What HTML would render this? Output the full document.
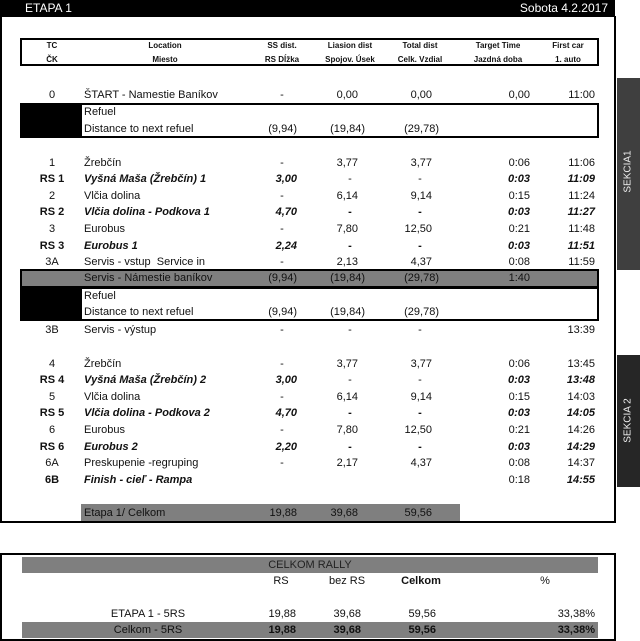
<!DOCTYPE html>
<html><head><meta charset="utf-8"><style>
*{margin:0;padding:0;box-sizing:border-box}
body{width:640px;height:641px;position:relative;background:#fff;font-family:"Liberation Sans",sans-serif;font-size:11px;color:#111;overflow:hidden}
.a{position:absolute}
.row{position:absolute;left:0;width:640px;height:16px;line-height:16px}
.row span{position:absolute;white-space:nowrap}
.tc{left:22px;width:60px;text-align:center}
.loc{left:84px}
.ssd{left:262px;width:40px;text-align:center}
.ss{right:343px}
.lid{left:330px;width:40px;text-align:center}
.li{right:282px}
.totd{left:400px;width:40px;text-align:center}
.tot{right:208px}
.tg{right:110px}
.fc{right:45px}
.p1{right:343px}.p2{right:275px}.p3{right:201px}
.b{font-weight:bold}
.bi{font-weight:bold;font-style:italic}
.hd{position:absolute;font-size:8px;font-weight:bold;width:80px;text-align:center}
.box{position:absolute;left:20px;width:579px;border:2.5px solid #000}
</style></head><body>
<div class="a" style="left:0;top:0;width:615px;height:17px;background:#000"></div>
<div class="a" style="left:25px;top:1px;color:#fff;font-size:12px;line-height:15px">ETAPA 1</div>
<div class="a" style="right:32px;top:1px;color:#fff;font-size:12px;line-height:15px">Sobota 4.2.2017</div>
<div class="a" style="left:0;top:16px;width:616px;height:507px;border:2px solid #000;border-top:none"></div>
<div class="a" style="left:617px;top:78px;width:23px;height:192px;background:#3f3f3f"></div>
<div class="a" style="left:617px;top:355px;width:23px;height:132px;background:#262626"></div>
<div class="a" style="left:578px;top:166px;width:100px;text-align:center;color:#eee;font-size:10px;transform:rotate(-90deg)">SEKCIA1</div>
<div class="a" style="left:578px;top:415px;width:100px;text-align:center;color:#eee;font-size:10px;transform:rotate(-90deg)">SEKCIA 2</div>
<div class="box" style="top:38px;height:28px"></div>
<div class="hd" style="left:12px;top:41px">TC</div><div class="hd" style="left:12px;top:55px">ČK</div>
<div class="hd" style="left:125px;top:41px">Location</div><div class="hd" style="left:125px;top:55px">Miesto</div>
<div class="hd" style="left:242px;top:41px">SS dist.</div><div class="hd" style="left:242px;top:55px">RS Dĺžka</div>
<div class="hd" style="left:310px;top:41px">Liasion dist</div><div class="hd" style="left:310px;top:55px">Spojov. Úsek</div>
<div class="hd" style="left:380px;top:41px">Total dist</div><div class="hd" style="left:380px;top:55px">Celk. Vzdial</div>
<div class="hd" style="left:458px;top:41px">Target Time</div><div class="hd" style="left:458px;top:55px">Jazdná doba</div>
<div class="hd" style="left:528px;top:41px">First car</div><div class="hd" style="left:528px;top:55px">1. auto</div>

<div class="row" style="top:87px"><span class="tc">0</span><span class="loc">ŠTART - Namestie Baníkov</span><span class="ssd">-</span><span class="li">0,00</span><span class="tot">0,00</span><span class="tg">0,00</span><span class="fc">11:00</span></div>
<div class="box" style="top:103px;height:35px"></div>
<div class="a" style="left:20px;top:103px;width:62px;height:35px;background:#000"></div>
<div class="row" style="top:104px"><span class="loc">Refuel</span></div>
<div class="row" style="top:121px"><span class="loc">Distance to next refuel</span><span class="p1">(9,94)</span><span class="p2">(19,84)</span><span class="p3">(29,78)</span></div>

<div class="row" style="top:155px"><span class="tc">1</span><span class="loc">Žrebčín</span><span class="ssd">-</span><span class="li">3,77</span><span class="tot">3,77</span><span class="tg">0:06</span><span class="fc">11:06</span></div>
<div class="row" style="top:171px"><span class="tc b">RS 1</span><span class="loc bi">Vyšná Maša (Žrebčín) 1</span><span class="ss bi">3,00</span><span class="lid">-</span><span class="totd">-</span><span class="tg bi">0:03</span><span class="fc bi">11:09</span></div>
<div class="row" style="top:188px"><span class="tc">2</span><span class="loc">Vlčia dolina</span><span class="ssd">-</span><span class="li">6,14</span><span class="tot">9,14</span><span class="tg">0:15</span><span class="fc">11:24</span></div>
<div class="row" style="top:204px"><span class="tc b">RS 2</span><span class="loc bi">Vlčia dolina - Podkova 1</span><span class="ss bi">4,70</span><span class="lid b">-</span><span class="totd b">-</span><span class="tg bi">0:03</span><span class="fc bi">11:27</span></div>
<div class="row" style="top:221px"><span class="tc">3</span><span class="loc">Eurobus</span><span class="ssd">-</span><span class="li">7,80</span><span class="tot">12,50</span><span class="tg">0:21</span><span class="fc">11:48</span></div>
<div class="row" style="top:238px"><span class="tc b">RS 3</span><span class="loc bi">Eurobus 1</span><span class="ss bi">2,24</span><span class="lid b">-</span><span class="totd b">-</span><span class="tg bi">0:03</span><span class="fc bi">11:51</span></div>
<div class="row" style="top:254px"><span class="tc">3A</span><span class="loc">Servis - vstup&nbsp; Service in</span><span class="ssd">-</span><span class="li">2,13</span><span class="tot">4,37</span><span class="tg">0:08</span><span class="fc">11:59</span></div>
<div class="box" style="top:269px;height:19px;background:#7f7f7f"></div>
<div class="row" style="top:270px"><span class="loc">Servis - Námestie baníkov</span><span class="p1">(9,94)</span><span class="p2">(19,84)</span><span class="p3">(29,78)</span><span class="tg">1:40</span></div>
<div class="box" style="top:287px;height:34px"></div>
<div class="a" style="left:20px;top:287px;width:62px;height:34px;background:#000"></div>
<div class="row" style="top:288px"><span class="loc">Refuel</span></div>
<div class="row" style="top:304px"><span class="loc">Distance to next refuel</span><span class="p1">(9,94)</span><span class="p2">(19,84)</span><span class="p3">(29,78)</span></div>
<div class="row" style="top:322px"><span class="tc">3B</span><span class="loc">Servis - výstup</span><span class="ssd">-</span><span class="lid">-</span><span class="totd">-</span><span class="fc">13:39</span></div>

<div class="row" style="top:356px"><span class="tc">4</span><span class="loc">Žrebčín</span><span class="ssd">-</span><span class="li">3,77</span><span class="tot">3,77</span><span class="tg">0:06</span><span class="fc">13:45</span></div>
<div class="row" style="top:372px"><span class="tc b">RS 4</span><span class="loc bi">Vyšná Maša (Žrebčín) 2</span><span class="ss bi">3,00</span><span class="lid">-</span><span class="totd">-</span><span class="tg bi">0:03</span><span class="fc bi">13:48</span></div>
<div class="row" style="top:389px"><span class="tc">5</span><span class="loc">Vlčia dolina</span><span class="ssd">-</span><span class="li">6,14</span><span class="tot">9,14</span><span class="tg">0:15</span><span class="fc">14:03</span></div>
<div class="row" style="top:405px"><span class="tc b">RS 5</span><span class="loc bi">Vlčia dolina - Podkova 2</span><span class="ss bi">4,70</span><span class="lid b">-</span><span class="totd b">-</span><span class="tg bi">0:03</span><span class="fc bi">14:05</span></div>
<div class="row" style="top:422px"><span class="tc">6</span><span class="loc">Eurobus</span><span class="ssd">-</span><span class="li">7,80</span><span class="tot">12,50</span><span class="tg">0:21</span><span class="fc">14:26</span></div>
<div class="row" style="top:439px"><span class="tc b">RS 6</span><span class="loc bi">Eurobus 2</span><span class="ss bi">2,20</span><span class="lid b">-</span><span class="totd b">-</span><span class="tg bi">0:03</span><span class="fc bi">14:29</span></div>
<div class="row" style="top:455px"><span class="tc">6A</span><span class="loc">Preskupenie -regruping</span><span class="ssd">-</span><span class="li">2,17</span><span class="tot">4,37</span><span class="tg">0:08</span><span class="fc">14:37</span></div>
<div class="row" style="top:472px"><span class="tc b">6B</span><span class="loc bi">Finish - cieľ - Rampa</span><span class="tg">0:18</span><span class="fc bi">14:55</span></div>

<div class="a" style="left:81px;top:504px;width:379px;height:17px;background:#7f7f7f"></div>
<div class="row" style="top:505px"><span class="loc">Etapa 1/ Celkom</span><span class="ss">19,88</span><span class="li">39,68</span><span class="tot">59,56</span></div>

<div class="a" style="left:0;top:553px;width:616px;height:88px;border:2px solid #000"></div>
<div class="a" style="left:22px;top:557px;width:576px;height:16px;background:#7f7f7f;text-align:center;line-height:16px;color:#222">CELKOM RALLY</div>
<div class="row" style="top:573px"><span style="left:261px;width:40px;text-align:center">RS</span><span style="left:322px;width:50px;text-align:center">bez RS</span><span class="b" style="left:396px;width:50px;text-align:center">Celkom</span><span style="left:530px;width:30px;text-align:center">%</span></div>
<div class="row" style="top:606px"><span style="left:85px;width:126px;text-align:center">ETAPA 1 - 5RS</span><span style="right:344px">19,88</span><span style="right:279px">39,68</span><span style="right:204px">59,56</span><span style="right:45px">33,38%</span></div>
<div class="a" style="left:22px;top:622px;width:576px;height:16px;background:#7f7f7f"></div>
<div class="row" style="top:622px"><span style="left:85px;width:126px;text-align:center">Celkom - 5RS</span><span class="b" style="right:344px">19,88</span><span class="b" style="right:279px">39,68</span><span class="b" style="right:204px">59,56</span><span class="b" style="right:45px">33,38%</span></div>
</body></html>
